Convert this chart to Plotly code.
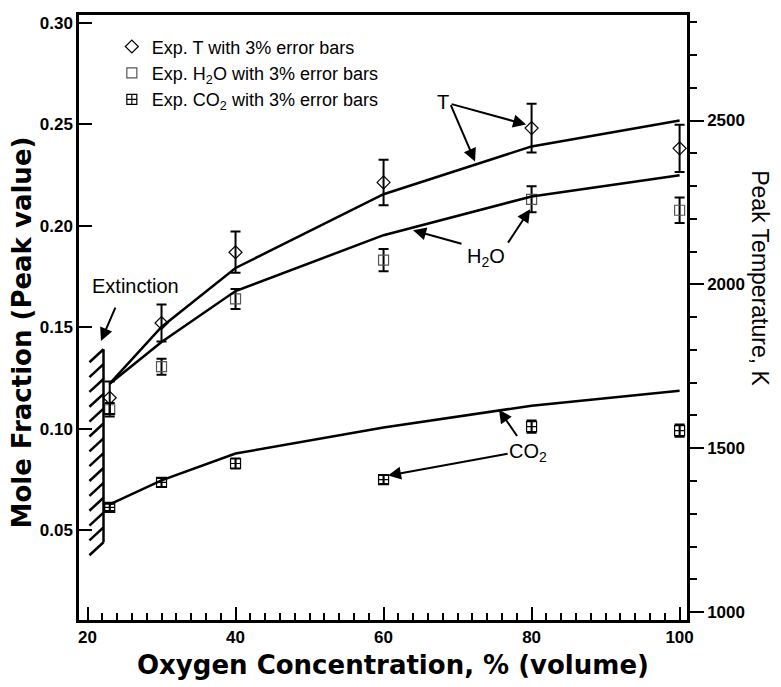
import plotly.graph_objects as go

# ---------------- data ----------------
oxygen = [23, 30, 40, 60, 80, 100]

exp_T = [1654, 1882, 2098, 2311, 2477, 2415]          # K, right axis
exp_H2O = [0.1094, 0.1306, 0.1640, 0.1831, 0.2131, 0.2077]
exp_CO2 = [0.0613, 0.0736, 0.0829, 0.0750, 0.1011, 0.0991]

model_T = [1697, 1870, 2050, 2275, 2421, 2500]
model_H2O = [0.1222, 0.1428, 0.1679, 0.1954, 0.2145, 0.2249]
model_CO2 = [0.0628, 0.0746, 0.0878, 0.1006, 0.1114, 0.1188]

error_pct = 3

left_ticks = [0.05, 0.10, 0.15, 0.20, 0.25, 0.30]
left_labels = ["0.05", "0.10", "0.15", "0.20", "0.25", "0.30"]
right_ticks = [1000, 1500, 2000, 2500]
x_ticks = [20, 40, 60, 80, 100]

# extinction boundary (hatched)
ext_x = 22.16
ext_y = [0.0441, 0.1392]

FONT = "Arial, Liberation Sans, sans-serif"
TITLE_FONT = "DejaVu Sans, Arial, sans-serif"
BLACK = "#000000"

fig = go.Figure()

err = dict(type="percent", value=error_pct, color=BLACK, thickness=2, width=5)

# experimental points (legend order)
fig.add_trace(go.Scatter(
    x=oxygen, y=exp_T, yaxis="y2", mode="markers",
    name="Exp. T with 3% error bars",
    marker=dict(symbol="diamond-open", size=10, color=BLACK, line=dict(width=1.2)),
    error_y=err))
fig.add_trace(go.Scatter(
    x=oxygen, y=exp_H2O, mode="markers",
    name="Exp. H<sub>2</sub>O with 3% error bars",
    marker=dict(symbol="square-open", size=10, color="#555555", line=dict(width=1.2)),
    error_y=err))
fig.add_trace(go.Scatter(
    x=oxygen, y=exp_CO2, mode="markers",
    name="Exp. CO<sub>2</sub> with 3% error bars",
    marker=dict(symbol="square-cross-open", size=10, color=BLACK, line=dict(width=1.2)),
    error_y=err))

# model lines
fig.add_trace(go.Scatter(x=oxygen, y=model_T, yaxis="y2", mode="lines",
                         line=dict(color=BLACK, width=2.5), showlegend=False))
fig.add_trace(go.Scatter(x=oxygen, y=model_H2O, mode="lines",
                         line=dict(color=BLACK, width=2.5), showlegend=False))
fig.add_trace(go.Scatter(x=oxygen, y=model_CO2, mode="lines",
                         line=dict(color=BLACK, width=2.5), showlegend=False))

# hatched extinction boundary
shapes = [dict(type="line", xref="x", yref="y", x0=ext_x, x1=ext_x,
               y0=ext_y[0], y1=ext_y[1], line=dict(color=BLACK, width=2.5))]
n_strokes = 14
for i in range(n_strokes):
    yy = ext_y[1] - i * (ext_y[1] - ext_y[0]) / (n_strokes - 1)
    shapes.append(dict(type="line", xref="x", yref="y", x0=ext_x, x1=ext_x - 1.9,
                       y0=yy, y1=yy - 0.0064, line=dict(color=BLACK, width=2.5)))

ann = []
def label(text, x, y, size=20):
    ann.append(dict(text=text, x=x, y=y, xref="x", yref="y", showarrow=False,
                    xanchor="center", yanchor="middle",
                    font=dict(family=FONT, size=size, color=BLACK)))

def arrow(x0, y0, x1, y1):
    ann.append(dict(text="", x=x1, y=y1, ax=x0, ay=y0, xref="x", yref="y",
                    axref="x", ayref="y", showarrow=True, arrowhead=2,
                    arrowsize=1.3, arrowwidth=2, arrowcolor=BLACK))

label("Extinction", 26.49, 0.1703)
arrow(23.85, 0.1605, 21.82, 0.1433)
label("T", 67.97, 0.2609)
arrow(69.0, 0.2602, 79.26, 0.2499)
arrow(69.0, 0.2602, 72.36, 0.2317)
label("H<sub>2</sub>O", 73.85, 0.1846)
arrow(70.74, 0.1910, 63.99, 0.1978)
arrow(76.69, 0.1910, 79.8, 0.2082)
label("CO<sub>2</sub>", 79.53, 0.0883)
arrow(78.18, 0.0957, 75.6, 0.1094)
arrow(76.96, 0.0878, 60.6, 0.0770)

# axis titles
ann.append(dict(text="<b>Mole Fraction (Peak value)</b>", x=-0.094, y=0.475,
                xref="paper", yref="paper", showarrow=False, textangle=-90,
                xanchor="center", yanchor="middle",
                font=dict(family=TITLE_FONT, size=26, color=BLACK)))
ann.append(dict(text="<b>Oxygen Concentration, % (volume)</b>", x=0.516, y=-0.074,
                xref="paper", yref="paper", showarrow=False,
                xanchor="center", yanchor="middle",
                font=dict(family=TITLE_FONT, size=26, color=BLACK)))
ann.append(dict(text="Peak Temperature, K", x=1.12, y=0.565,
                xref="paper", yref="paper", showarrow=False, textangle=90,
                xanchor="center", yanchor="middle",
                font=dict(family=FONT, size=23, color=BLACK)))

tickfont = dict(family=FONT, size=17, color=BLACK, weight="bold")

fig.update_layout(
    width=781, height=687,
    margin=dict(l=79, r=94, t=13, b=67, pad=0),
    paper_bgcolor="white", plot_bgcolor="white",
    showlegend=True,
    legend=dict(x=0.054, y=0.978, xanchor="left", yanchor="top",
                bgcolor="rgba(0,0,0,0)", font=dict(family=FONT, size=18, color=BLACK)),
    xaxis=dict(range=[18.85, 101.0], showgrid=False, zeroline=False,
               showline=True, linewidth=2.5, linecolor=BLACK, mirror=True,
               ticks="inside", ticklen=13, tickwidth=2, tickcolor=BLACK,
               tickvals=x_ticks, tickfont=tickfont,
               minor=dict(dtick=2, tick0=20, ticks="inside", ticklen=7, tickwidth=2,
                          tickcolor=BLACK, showgrid=False)),
    yaxis=dict(range=[0.0058, 0.3039], showgrid=False, zeroline=False,
               showline=True, linewidth=2.5, linecolor=BLACK,
               ticks="inside", ticklen=13, tickwidth=2, tickcolor=BLACK,
               tickvals=left_ticks, ticktext=left_labels, tickfont=tickfont),
    yaxis2=dict(range=[975.7, 2822], overlaying="y", side="right",
                showgrid=False, zeroline=False,
                showline=True, linewidth=2.5, linecolor=BLACK,
                ticks="outside", ticklen=14, tickwidth=2, tickcolor=BLACK,
                tickvals=right_ticks, tickfont=tickfont,
                minor=dict(dtick=100, tick0=1000, ticks="outside", ticklen=7,
                           tickwidth=2, tickcolor=BLACK, showgrid=False)),
    shapes=shapes,
    annotations=ann,
)

fig.write_html("out.html")
